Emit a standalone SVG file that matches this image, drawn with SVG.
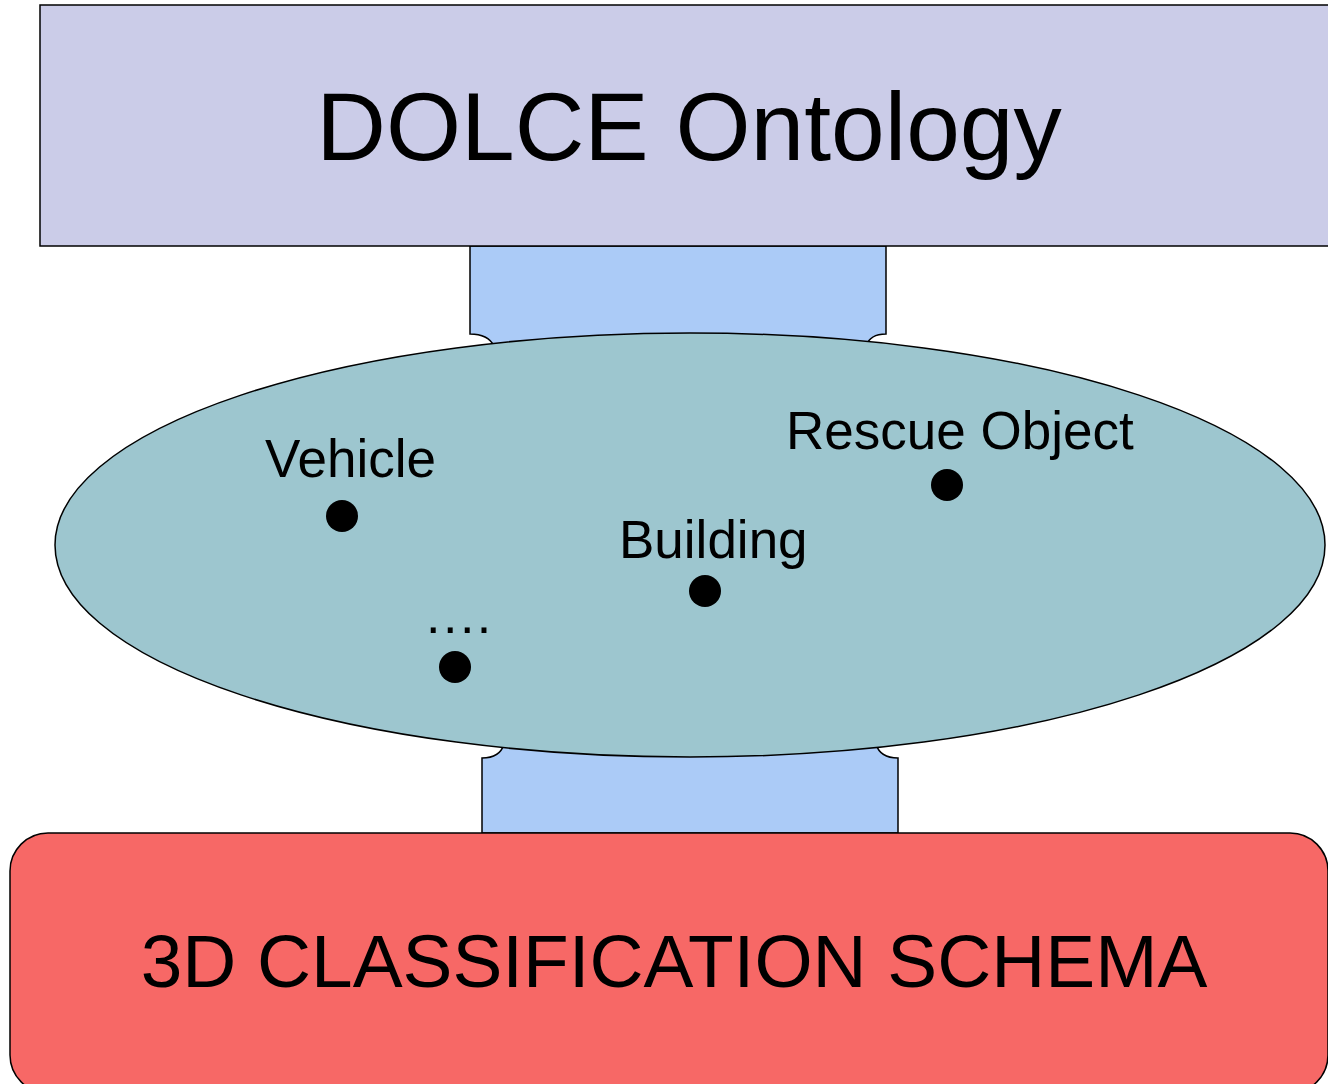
<svg xmlns="http://www.w3.org/2000/svg" width="1328" height="1084" viewBox="0 0 1328 1084">
<style>
.shape{stroke:#000;stroke-width:1.5}
.conn{fill:#ABCBF7;stroke:#000;stroke-width:1.5}
.lbl{font-family:"Liberation Sans",Arial,sans-serif;fill:#000}
.dot{fill:#000}
</style>
<rect width="1328" height="1084" fill="#fff"/>
<g id="connectors">
<path class="conn" d="M470,246 H886 V334 Q870,334 866,346 L494,346 Q488,334 470,334 Z"/>
<path class="conn" d="M482,833 H898 V758 Q880,758 876,744 L504,744 Q500,758 482,758 Z"/>
</g>
<g id="dolce">
<rect class="shape" x="40" y="5" width="1300" height="241" fill="#CBCCE8"/>
<text class="lbl" x="689" y="160" font-size="96.5" text-anchor="middle">DOLCE Ontology</text>
</g>
<g id="schema">
<rect class="shape" x="10" y="833" width="1318" height="260" rx="38" ry="38" fill="#F76866"/>
<text class="lbl" x="674" y="987" font-size="74.8" text-anchor="middle">3D CLASSIFICATION SCHEMA</text>
</g>
<g id="domain">
<ellipse class="shape" cx="690" cy="545" rx="635" ry="212" fill="#9DC6CF"/>
</g>
<g id="vehicle">
<text class="lbl" x="265" y="477" font-size="53">Vehicle</text>
<circle class="dot" cx="342" cy="516" r="16"/>
</g>
<g id="building">
<text class="lbl" x="619" y="558" font-size="53">Building</text>
<circle class="dot" cx="705" cy="591" r="16"/>
</g>
<g id="rescue">
<text class="lbl" x="786" y="449" font-size="53">Rescue Object</text>
<circle class="dot" cx="947" cy="485" r="16"/>
</g>
<g id="others">
<text class="lbl" x="426" y="633" font-size="52" letter-spacing="2.5">....</text>
<circle class="dot" cx="455" cy="667" r="16"/>
</g>
</svg>
